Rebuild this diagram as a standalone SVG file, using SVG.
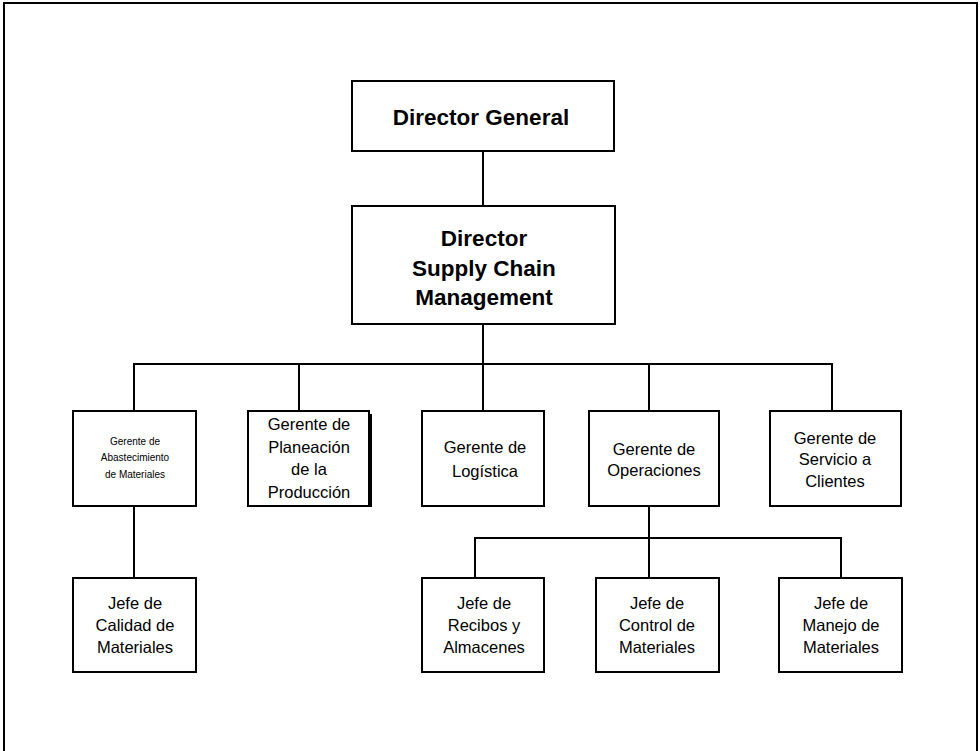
<svg xmlns="http://www.w3.org/2000/svg" width="980" height="751" viewBox="0 0 980 751">
  <style>
    .box { fill: #ffffff; stroke: #000000; stroke-width: 2; }
    .wire { fill: none; stroke: #000000; stroke-width: 2; }
    .frame { fill: none; stroke: #000000; stroke-width: 2; }
    text { font-family: "Liberation Sans", Arial, sans-serif; fill: #000000; text-anchor: middle; dominant-baseline: central; }
    .big { font-size: 22.5px; font-weight: bold; }
    .mid { font-size: 16.5px; }
    .small { font-size: 10px; }
  </style>
  <rect width="980" height="751" fill="#ffffff"/>
  <!-- page frame, open at the bottom -->
  <path class="frame" d="M4 760 V3 H977 V760"/>

  <g id="connectors">
    <path class="wire" d="M483 151 V206"/>
    <path class="wire" d="M483 324 V411"/>
    <path class="wire" d="M134 411 V364 H832 V411"/>
    <path class="wire" d="M299 364 V411"/>
    <path class="wire" d="M649 364 V411"/>
    <path class="wire" d="M134 506 V578"/>
    <path class="wire" d="M649 506 V578"/>
    <path class="wire" d="M475 578 V538 H841 V578"/>
  </g>

  <g id="director-general">
    <rect class="box" x="352" y="81" width="262" height="70"/>
    <text class="big" x="481" y="117">Director General</text>
  </g>

  <g id="director-scm">
    <rect class="box" x="352" y="206" width="263" height="118"/>
    <text class="big" x="484" y="238">Director</text>
    <text class="big" x="484" y="268">Supply Chain</text>
    <text class="big" x="484" y="297">Management</text>
  </g>

  <g id="gerente-abastecimiento">
    <rect class="box" x="73" y="411" width="123" height="95"/>
    <text class="small" x="135" y="441">Gerente de</text>
    <text class="small" x="135" y="457">Abastecimiento</text>
    <text class="small" x="135" y="474">de Materiales</text>
  </g>

  <g id="gerente-planeacion">
    <rect class="box" x="248" y="411" width="121" height="95"/>
    <path class="wire" d="M371 414 V507"/>
    <text class="mid" x="309" y="424">Gerente de</text>
    <text class="mid" x="309" y="447">Planeación</text>
    <text class="mid" x="309" y="469">de la</text>
    <text class="mid" x="309" y="492">Producción</text>
  </g>

  <g id="gerente-logistica">
    <rect class="box" x="422" y="411" width="122" height="95"/>
    <text class="mid" x="485" y="447">Gerente de</text>
    <text class="mid" x="485" y="471">Logística</text>
  </g>

  <g id="gerente-operaciones">
    <rect class="box" x="589" y="411" width="130" height="95"/>
    <text class="mid" x="654" y="449">Gerente de</text>
    <text class="mid" x="654" y="470">Operaciones</text>
  </g>

  <g id="gerente-servicio">
    <rect class="box" x="770" y="411" width="131" height="95"/>
    <text class="mid" x="835" y="438">Gerente de</text>
    <text class="mid" x="835" y="459">Servicio a</text>
    <text class="mid" x="835" y="481">Clientes</text>
  </g>

  <g id="jefe-calidad">
    <rect class="box" x="73" y="578" width="123" height="94"/>
    <text class="mid" x="135" y="603">Jefe de</text>
    <text class="mid" x="135" y="625">Calidad de</text>
    <text class="mid" x="135" y="647">Materiales</text>
  </g>

  <g id="jefe-recibos">
    <rect class="box" x="422" y="578" width="122" height="94"/>
    <text class="mid" x="484" y="603">Jefe de</text>
    <text class="mid" x="484" y="625">Recibos y</text>
    <text class="mid" x="484" y="647">Almacenes</text>
  </g>

  <g id="jefe-control">
    <rect class="box" x="596" y="578" width="123" height="94"/>
    <text class="mid" x="657" y="603">Jefe de</text>
    <text class="mid" x="657" y="625">Control de</text>
    <text class="mid" x="657" y="647">Materiales</text>
  </g>

  <g id="jefe-manejo">
    <rect class="box" x="779" y="578" width="123" height="94"/>
    <text class="mid" x="841" y="603">Jefe de</text>
    <text class="mid" x="841" y="625">Manejo de</text>
    <text class="mid" x="841" y="647">Materiales</text>
  </g>
</svg>
